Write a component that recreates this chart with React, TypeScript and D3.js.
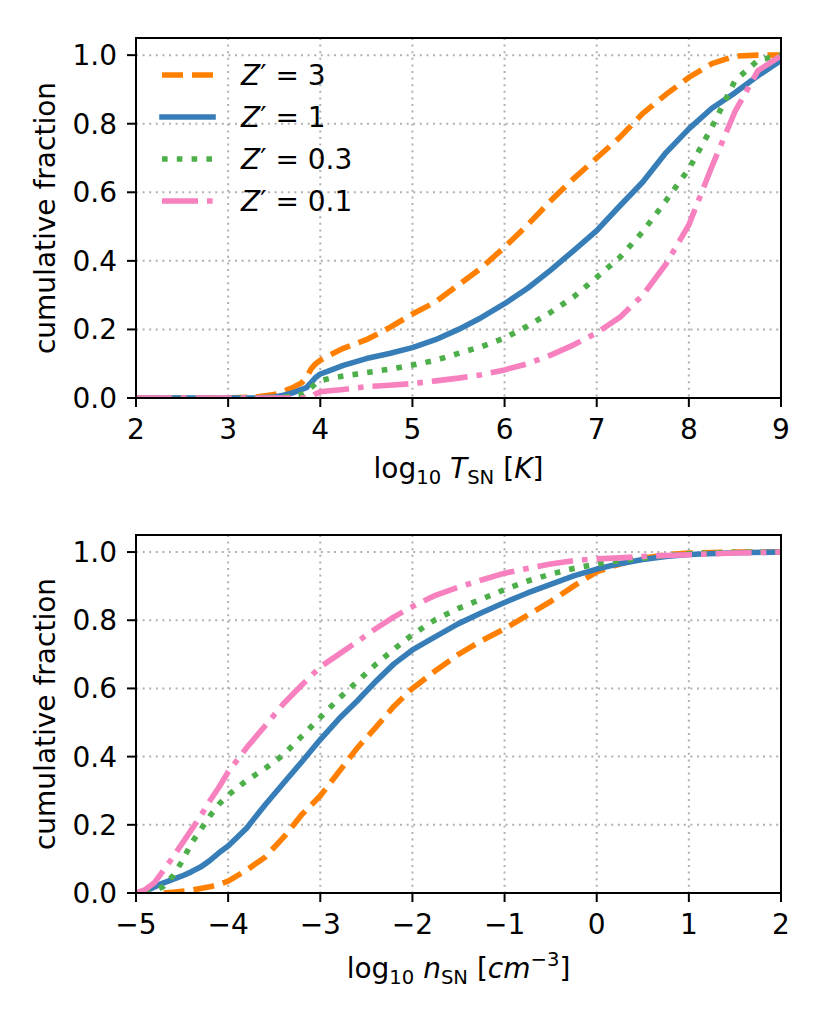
import React from "react";
import * as d3 from "d3";

// ---------- Data ----------
const tempX = [2, 3, 3.3, 3.5, 3.6, 3.7, 3.8, 3.85, 3.9, 3.95, 4.0, 4.1, 4.25, 4.5, 4.75, 5, 5.25, 5.5, 5.75, 6, 6.25, 6.5, 6.75, 7, 7.25, 7.5, 7.75, 8, 8.25, 8.5, 8.75, 9];
const tempZ3 = [0, 0, 0.003, 0.01, 0.02, 0.03, 0.045, 0.06, 0.085, 0.1, 0.11, 0.125, 0.145, 0.17, 0.205, 0.245, 0.28, 0.33, 0.38, 0.44, 0.505, 0.575, 0.64, 0.7, 0.76, 0.83, 0.885, 0.935, 0.975, 0.997, 1.0, 1.0];
const tempZ1 = [0, 0, 0, 0.003, 0.008, 0.015, 0.025, 0.03, 0.045, 0.06, 0.07, 0.08, 0.095, 0.115, 0.13, 0.147, 0.17, 0.2, 0.235, 0.275, 0.32, 0.373, 0.43, 0.488, 0.56, 0.63, 0.715, 0.785, 0.845, 0.89, 0.94, 0.985];
const tempZ03 = [0, 0, 0, 0, 0.002, 0.005, 0.01, 0.018, 0.03, 0.042, 0.05, 0.057, 0.064, 0.074, 0.084, 0.096, 0.11, 0.13, 0.15, 0.175, 0.21, 0.25, 0.295, 0.352, 0.41, 0.485, 0.575, 0.668, 0.79, 0.925, 0.985, 1.0];
const tempZ01 = [0, 0, 0, 0, 0, 0, 0, 0, 0.002, 0.012, 0.018, 0.021, 0.025, 0.033, 0.037, 0.042, 0.05, 0.058, 0.068, 0.082, 0.1, 0.125, 0.155, 0.19, 0.235, 0.3, 0.39, 0.505, 0.675, 0.835, 0.955, 0.998];

const densX = [-5, -4.95, -4.9, -4.8, -4.7, -4.6, -4.5, -4.4, -4.3, -4.2, -4.1, -4.0, -3.8, -3.6, -3.4, -3.2, -3.0, -2.8, -2.6, -2.4, -2.2, -2.0, -1.75, -1.5, -1.25, -1.0, -0.75, -0.5, -0.25, 0, 0.25, 0.5, 0.75, 1.0, 1.5, 2.0];
const densZ3 = [null, null, null, null, 0, 0.002, 0.005, 0.008, 0.013, 0.018, 0.025, 0.035, 0.067, 0.105, 0.163, 0.23, 0.285, 0.355, 0.425, 0.485, 0.548, 0.6, 0.652, 0.7, 0.74, 0.775, 0.815, 0.855, 0.9, 0.942, 0.965, 0.982, 0.992, 0.997, 1.0, 1.0];
const densZ1 = [null, 0, 0.005, 0.018, 0.03, 0.04, 0.05, 0.062, 0.076, 0.095, 0.118, 0.138, 0.19, 0.258, 0.322, 0.385, 0.45, 0.51, 0.563, 0.62, 0.672, 0.713, 0.752, 0.79, 0.822, 0.852, 0.88, 0.905, 0.93, 0.95, 0.966, 0.978, 0.987, 0.993, 0.998, 1.0];
const densZ03 = [null, null, 0, 0.005, 0.02, 0.05, 0.093, 0.145, 0.185, 0.225, 0.26, 0.287, 0.33, 0.365, 0.405, 0.46, 0.515, 0.57, 0.62, 0.67, 0.715, 0.758, 0.802, 0.835, 0.862, 0.89, 0.915, 0.935, 0.952, 0.965, 0.975, 0.982, 0.99, 0.995, 0.999, 1.0];
const densZ01 = [0, 0.005, 0.01, 0.03, 0.067, 0.105, 0.145, 0.185, 0.225, 0.27, 0.31, 0.355, 0.426, 0.49, 0.555, 0.61, 0.663, 0.7, 0.737, 0.775, 0.81, 0.84, 0.873, 0.897, 0.918, 0.938, 0.952, 0.965, 0.975, 0.98, 0.983, 0.987, 0.99, 0.992, 0.997, 1.0];

const seriesLabels = ["3", "1", "0.3", "0.1"];
const tempTicks = [2, 3, 4, 5, 6, 7, 8, 9];
const densTicks = [-5, -4, -3, -2, -1, 0, 1, 2];
const yTicks = [0, 0.2, 0.4, 0.6, 0.8, 1.0];

// ---------- Styles ----------
const COLORS = ["#ff7f00", "#377eb8", "#4daf4a", "#f781bf"];
const DASHES = ["21 9", "", "5.6 9.2", "36 9 5.6 9"];
const LW = 5.6;
const FONT = "DejaVu Sans, sans-serif";
const FS = 28;

const W = 822;
const H = 1028;
const LEFT = 136;
const RIGHT = 781;

type PanelProps = {
  id: string;
  top: number;
  bottom: number;
  xDomain: [number, number];
  xTicks: number[];
  xs: number[];
  ys: (number | null)[][];
  xlabel: React.ReactNode;
  xlabelY: number;
  legend?: boolean;
};

function Panel({ id, top, bottom, xDomain, xTicks, xs, ys, xlabel, xlabelY, legend }: PanelProps) {
  const x = d3.scaleLinear().domain(xDomain).range([LEFT, RIGHT]);
  const y = d3.scaleLinear().domain([0, 1.05]).range([bottom, top]);
  const fmtX = d3.format("d");
  const fmtY = d3.format(".1f");
  const tickLen = 9;

  return (
    <g>
      <defs>
        <clipPath id={id}>
          <rect x={LEFT} y={top} width={RIGHT - LEFT} height={bottom - top} />
        </clipPath>
      </defs>
      {/* grid */}
      <g stroke="#b0b0b0" strokeWidth={2} strokeDasharray="2 4.6" fill="none">
        {xTicks.map((t) => (
          <line key={"gx" + t} x1={x(t)} x2={x(t)} y1={top} y2={bottom} />
        ))}
        {yTicks.map((t) => (
          <line key={"gy" + t} x1={LEFT} x2={RIGHT} y1={y(t)} y2={y(t)} />
        ))}
      </g>
      {/* series */}
      <g clipPath={`url(#${id})`}>
        {ys.map((vals, i) => {
          const line = d3
            .line<number>()
            .defined((_, j) => vals[j] !== null)
            .x((_, j) => x(xs[j]))
            .y((_, j) => y(vals[j] as number));
          return (
            <path
              key={i}
              d={line(xs) || ""}
              fill="none"
              stroke={COLORS[i]}
              strokeWidth={LW}
              strokeDasharray={DASHES[i] || undefined}
              strokeLinecap={DASHES[i] ? "butt" : "square"}
              strokeLinejoin="round"
            />
          );
        })}
      </g>
      {/* spines */}
      <rect x={LEFT} y={top} width={RIGHT - LEFT} height={bottom - top} fill="none" stroke="#000" strokeWidth={2} />
      {/* ticks */}
      <g stroke="#000" strokeWidth={2}>
        {xTicks.map((t) => (
          <line key={"tx" + t} x1={x(t)} x2={x(t)} y1={bottom} y2={bottom + tickLen} />
        ))}
        {yTicks.map((t) => (
          <line key={"ty" + t} x1={LEFT - tickLen} x2={LEFT} y1={y(t)} y2={y(t)} />
        ))}
      </g>
      <g fontFamily={FONT} fontSize={FS} fill="#000">
        {xTicks.map((t) => (
          <text key={"lx" + t} x={x(t)} y={bottom + 41} textAnchor="middle">
            {fmtX(t)}
          </text>
        ))}
        {yTicks.map((t) => (
          <text key={"ly" + t} x={LEFT - 19} y={y(t) + 10} textAnchor="end">
            {fmtY(t)}
          </text>
        ))}
        <text transform={`translate(55, ${(top + bottom) / 2}) rotate(-90)`} textAnchor="middle">
          cumulative fraction
        </text>
        <text x={(LEFT + RIGHT) / 2} y={xlabelY} textAnchor="middle">
          {xlabel}
        </text>
      </g>
      {legend && (
        <g fontFamily={FONT} fontSize={FS}>
          {seriesLabels.map((lab, i) => {
            const ly = 75 + i * 42;
            return (
              <g key={"leg" + i}>
                <line
                  x1={162}
                  x2={213}
                  y1={ly}
                  y2={ly}
                  stroke={COLORS[i]}
                  strokeWidth={LW}
                  strokeDasharray={DASHES[i] || undefined}
                  strokeLinecap={DASHES[i] ? "butt" : "square"}
                />
                <text x={241} y={ly + 10}>
                  <tspan fontStyle="italic">Z</tspan>
                  <tspan>{"\u2032 = " + lab}</tspan>
                </text>
              </g>
            );
          })}
        </g>
      )}
    </g>
  );
}

export default function App() {
  const sub = FS * 0.7;
  return (
    <svg
      width={W}
      height={H}
      viewBox={`0 0 ${W} ${H}`}
      style={{ position: "absolute", left: 0, top: 0, background: "#fff" }}
    >
      <rect width={W} height={H} fill="#fff" />
      <Panel
        id="clipTop"
        top={38}
        bottom={398}
        xDomain={[2, 9]}
        xTicks={tempTicks}
        xs={tempX}
        ys={[tempZ3, tempZ1, tempZ03, tempZ01]}
        xlabelY={478}
        legend
        xlabel={
          <>
            <tspan>log</tspan>
            <tspan fontSize={sub} dy={6}>10</tspan>
            <tspan dy={-6}>{" "}</tspan>
            <tspan fontStyle="italic">T</tspan>
            <tspan fontSize={sub} dy={6}>SN</tspan>
            <tspan dy={-6}>{" ["}</tspan>
            <tspan fontStyle="italic">K</tspan>
            <tspan>]</tspan>
          </>
        }
      />
      <Panel
        id="clipBot"
        top={535}
        bottom={893}
        xDomain={[-5, 2]}
        xTicks={densTicks}
        xs={densX}
        ys={[densZ3, densZ1, densZ03, densZ01]}
        xlabelY={978}
        xlabel={
          <>
            <tspan>log</tspan>
            <tspan fontSize={sub} dy={6}>10</tspan>
            <tspan dy={-6}>{" "}</tspan>
            <tspan fontStyle="italic">n</tspan>
            <tspan fontSize={sub} dy={6}>SN</tspan>
            <tspan dy={-6}>{" ["}</tspan>
            <tspan fontStyle="italic">cm</tspan>
            <tspan fontSize={sub} dy={-12}>{"\u22123"}</tspan>
            <tspan dy={12}>]</tspan>
          </>
        }
      />
    </svg>
  );
}
